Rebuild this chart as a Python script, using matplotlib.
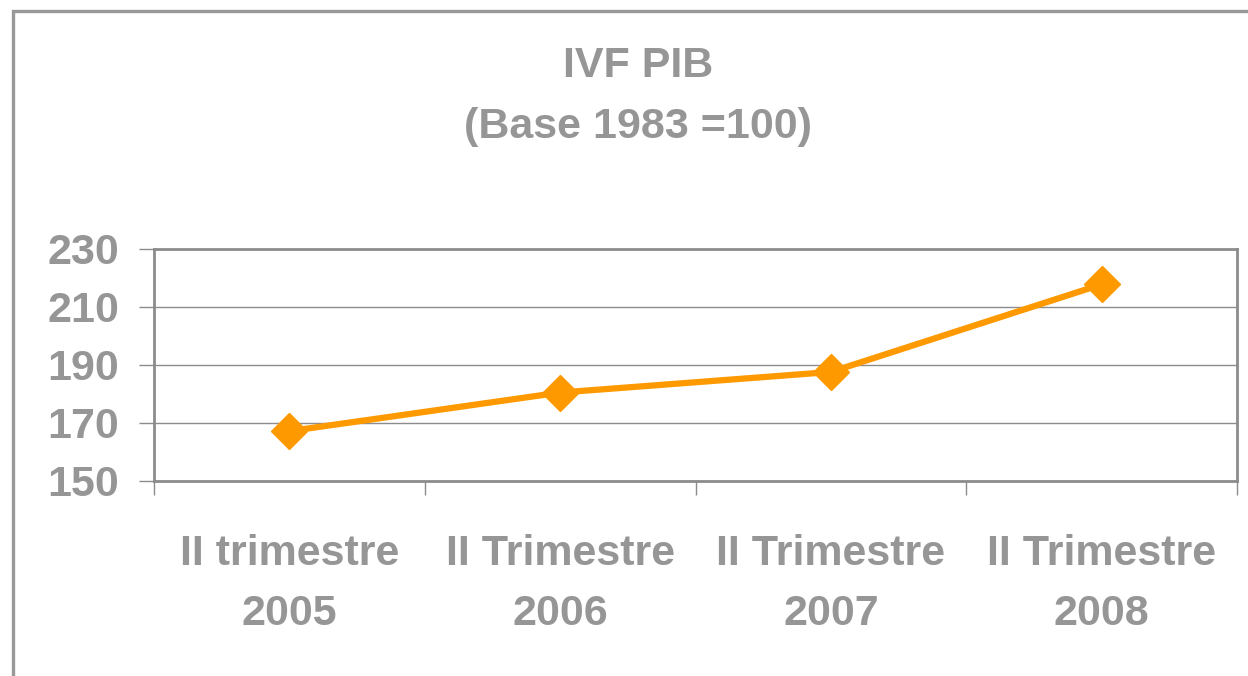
import matplotlib
matplotlib.use("Agg")
import matplotlib.pyplot as plt
from matplotlib.patches import Rectangle

categories = ["II trimestre\n2005", "II Trimestre\n2006", "II Trimestre\n2007", "II Trimestre\n2008"]
values = [167.2, 180.5, 187.6, 217.8]
yticks = [150, 170, 190, 210, 230]
title_line1 = "IVF PIB"
title_line2 = "(Base 1983 =100)"

GRAY = "#969696"
AXGRAY = "#8c8c8c"
ORANGE = "#FF9900"

plt.rcParams['font.family'] = ['Liberation Sans', 'DejaVu Sans']

W, H = 1248, 676
fig = plt.figure(figsize=(W / 100, H / 100), dpi=100)
fig.patch.set_facecolor("white")

# outer chart frame (only top & left visible)
fig.patches.append(Rectangle((13 / W, -0.1), 1.2, 1 - 11 / H + 0.1, transform=fig.transFigure,
                             fill=False, edgecolor="#999999", linewidth=2.4, zorder=0))

left, right, top, bottom = 154, 1237, 249, 481
ax = fig.add_axes([left / W, 1 - bottom / H, (right - left) / W, (bottom - top) / H])

x = list(range(len(categories)))
ax.plot(x, values, color=ORANGE, linewidth=4.5, marker="D", markersize=18,
        markerfacecolor=ORANGE, markeredgecolor=ORANGE, zorder=3, clip_on=False)

ax.set_xlim(-0.5, len(categories) - 0.5)
ax.set_ylim(150, 230)
ax.set_yticks(yticks)
ax.set_yticklabels([str(v) for v in yticks])
ax.yaxis.grid(True, color=AXGRAY, linewidth=1.0)
ax.set_axisbelow(True)

ax.set_xticks(x)
ax.set_xticklabels(categories)
ax.set_xticks([i - 0.5 for i in range(len(categories) + 1)], minor=True)
ax.tick_params(axis="x", which="major", length=0, pad=38, labelsize=31, labelcolor=GRAY)
ax.tick_params(axis="x", which="minor", length=10, width=1.0, color=AXGRAY, direction="out")
ax.tick_params(axis="y", length=11, width=1.0, color=AXGRAY, pad=14, labelsize=31, labelcolor=GRAY)
for lab in ax.get_xticklabels() + ax.get_yticklabels():
    lab.set_fontweight("bold")
for lab in ax.get_xticklabels():
    lab.set_linespacing(1.65)

for s in ax.spines.values():
    s.set_color(AXGRAY)
    s.set_linewidth(2.0)

fig.text(638 / W, 1 - 66 / H, title_line1, ha="center", va="center", fontsize=31,
         fontweight="bold", color=GRAY)
fig.text(638 / W, 1 - 127 / H, title_line2, ha="center", va="center", fontsize=31,
         fontweight="bold", color=GRAY)

fig.savefig("out.png", dpi=100, facecolor="white")
